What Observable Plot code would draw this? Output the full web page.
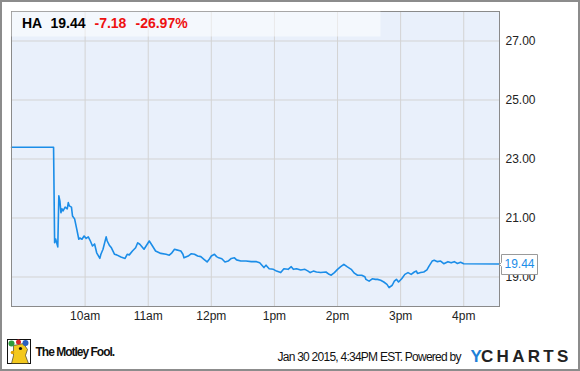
<!DOCTYPE html>
<html><head><meta charset="utf-8">
<script src="https://cdn.jsdelivr.net/npm/d3@7"></script>
<script src="https://cdn.jsdelivr.net/npm/@observablehq/plot@0.6"></script>
<style>body{margin:0;background:#fff;}</style>
</head><body><div id="chart"></div>
<script>
// minutes since midnight (Jan 30 2015)
const times = [530,570,571,572,574,575,576,577,578,579,
581,583,584,585,587,588,590,592,594,595,
597,599,601,603,605,607,609,611,614,615,
617,620,621,623,625,628,630,634,638,640,
642,645,648,650,652,653,656,661,663,667,
672,677,680,682,685,687,691,693,694,698,
701,704,707,710,713,716,718,720,723,725,
727,730,733,736,739,742,744,748,753,758,
763,766,770,772,775,779,782,786,789,793,
796,798,801,805,809,812,814,817,820,824,
829,832,834,837,840,843,846,849,853,856,
859,863,866,867,870,873,876,878,881,884,
887,889,892,894,896,898,901,904,907,910,
913,915,916,919,922,925,927,930,932,935,
938,941,945,948,951,954,957,960,994];
const prices = [23.40,23.40,20.16,20.29,20.02,21.75,21.58,21.18,21.31,21.24,
21.37,21.31,21.52,21.41,21.37,21.07,20.97,20.63,20.28,20.32,
20.28,20.39,20.31,20.36,20.22,20.05,20.12,19.82,19.63,19.77,
19.94,20.36,20.22,20.08,19.99,19.77,19.75,19.68,19.63,19.77,
19.75,19.88,19.99,20.16,20.11,20.07,19.94,20.22,20.11,19.88,
19.80,19.77,19.74,19.80,19.94,19.92,19.88,19.77,19.65,19.71,
19.79,19.77,19.71,19.69,19.60,19.51,19.60,19.71,19.77,19.69,
19.65,19.62,19.51,19.54,19.63,19.65,19.58,19.54,19.54,19.52,
19.52,19.48,19.32,19.40,19.28,19.26,19.20,19.15,19.28,19.26,
19.35,19.26,19.28,19.24,19.26,19.20,19.15,19.20,19.17,19.15,
19.17,19.09,19.06,19.15,19.26,19.35,19.43,19.35,19.26,19.13,
19.06,19.06,19.01,18.92,18.86,18.94,18.92,18.92,18.89,18.83,
18.75,18.64,18.72,18.86,18.92,18.83,18.94,19.09,19.15,19.09,
19.17,19.20,19.12,19.15,19.17,19.24,19.37,19.54,19.57,19.52,
19.54,19.45,19.52,19.48,19.52,19.46,19.50,19.45,19.44];
const xTicks = [600,660,720,780,840,900,960];
const xTickLabels = ["10am","11am","12pm","1pm","2pm","3pm","4pm"];
const yTicks = [19,21,23,25,27];
const headerTexts = ["HA","19.44","-7.18","-26.97%"];
const footerNote = "Jan 30 2015, 4:34PM EST. Powered by";
const brandLeft = "The Motley Fool.";
const brandRight = ["Y","CHARTS"];

const data = times.map((t,i)=>({t, p: prices[i]}));
const last = data[data.length-1];
const font = "'Liberation Sans', Arial, sans-serif";

const chart = Plot.plot({
  width:580, height:371,
  marginLeft:11, marginRight:81, marginTop:11, marginBottom:65,
  style:{background:"#fff", fontFamily:font, fontSize:"12px", color:"#222", overflow:"visible"},
  x:{domain:[530,994], axis:null},
  y:{domain:[18,28], axis:null},
  marks:[
    Plot.frame({fill:"#e9f0fb", stroke:null}),
    Plot.gridX(xTicks,{stroke:"#d3d3d3", strokeOpacity:1}),
    Plot.gridY(yTicks,{stroke:"#d3d3d3", strokeOpacity:1}),
    Plot.line(data,{x:"t", y:"p", stroke:"#1b8de8", strokeWidth:1.6}),
    Plot.frame({stroke:"#8a8a8a"}),
    Plot.axisX(xTicks,{label:null, tickSize:0, tickPadding:4.5, tickFormat:d=>xTickLabels[xTicks.indexOf(d)], fontSize:12, fill:"#222"}),
    Plot.axisY(yTicks,{label:null, anchor:"right", tickSize:0, tickPadding:6, tickFormat:d=>d.toFixed(2), fontSize:12, fill:"#222"}),
    Plot.text([headerTexts[0]],{text:d=>d, frameAnchor:"top-left", lineAnchor:"top", textAnchor:"start", dx:10.5, dy:6.7, fontSize:14, fontWeight:"bold", fill:"#000"}),
    Plot.text([headerTexts[1]],{text:d=>d, frameAnchor:"top-left", lineAnchor:"top", textAnchor:"start", dx:39, dy:6.7, fontSize:14, fontWeight:"bold", fill:"#000"}),
    Plot.text([headerTexts[2]],{text:d=>d, frameAnchor:"top-left", lineAnchor:"top", textAnchor:"start", dx:83, dy:6.7, fontSize:14, fontWeight:"bold", fill:"#ee1111"}),
    Plot.text([headerTexts[3]],{text:d=>d, frameAnchor:"top-left", lineAnchor:"top", textAnchor:"start", dx:124, dy:6.7, fontSize:14, fontWeight:"bold", fill:"#ee1111"}),
    Plot.text([footerNote],{text:d=>d, frameAnchor:"bottom-left", lineAnchor:"middle", textAnchor:"start", dx:266, dy:50.2, fontSize:12, fill:"#111"}),
    Plot.text([brandLeft],{text:d=>d, frameAnchor:"bottom-left", lineAnchor:"middle", textAnchor:"start", dx:24, dy:45.5, fontSize:12, fontWeight:"bold", fill:"#111"}),
    Plot.text([brandRight[0]],{text:d=>d, frameAnchor:"bottom-left", lineAnchor:"middle", textAnchor:"start", dx:459, dy:50.3, fontSize:17, fontWeight:"bold", fill:"#1e80d8"}),
    Plot.text([brandRight[1]],{text:d=>d, frameAnchor:"bottom-left", lineAnchor:"middle", textAnchor:"start", dx:469.5, dy:50.3, fontSize:17, fontWeight:"bold", fill:"#222"}),
    Plot.tip([last],{x:"t", y:"p", title:d=>d.p.toFixed(2), anchor:"left", pointerSize:4, textPadding:3, fontSize:12, fill:"white", stroke:"#9a9a9a", pathFilter:"none"})
  ]
});
document.getElementById("chart").appendChild(chart);

// decorations
const svg = d3.select(chart);
const byText = s => svg.selectAll("text").filter(function(){ return this.textContent === s; });
byText(footerNote).attr("letter-spacing", -0.75);
byText(brandLeft).attr("letter-spacing", -1);
byText(brandRight[1]).attr("letter-spacing", 3.3);
svg.selectAll('g[aria-label="tip"] text, g[aria-label="tip"] tspan').attr("fill", "#1b8de8");
svg.selectAll('g[aria-label="tip"], g[aria-label="tip"] path').style("filter", "none");
// header band (drawn under the header texts)
const headerNode = byText(headerTexts[0]).node();
if (headerNode) {
  let g = headerNode;
  while (g.parentNode && g.parentNode !== chart) g = g.parentNode;
  const band = document.createElementNS("http://www.w3.org/2000/svg","rect");
  chart.insertBefore(band, g);
  d3.select(band).attr("x", 11.5).attr("y", 11.5).attr("width", 369).attr("height", 25)
    .attr("fill", "#ffffff").attr("fill-opacity", 0.5);
}
// logo
const logo = svg.append("g").attr("transform","translate(7.5,339.5)");
logo.append("rect").attr("width",23).attr("height",24).attr("fill","#fff").attr("stroke","#111");
logo.append("path").attr("d","M6,6 L16,4 L20,10 L18,16 L21,24 L4,24 L6,16 Z").attr("fill","#f3c81e").attr("stroke","#222").attr("stroke-width",0.6);
logo.append("circle").attr("cx",4).attr("cy",4).attr("r",3).attr("fill","#2f9a3a");
logo.append("circle").attr("cx",11).attr("cy",2.5).attr("r",2.5).attr("fill","#d9262b");
logo.append("circle").attr("cx",18).attr("cy",3.5).attr("r",3).attr("fill","#2a5fbf");
logo.append("circle").attr("cx",13).attr("cy",9).attr("r",1.6).attr("fill","#111");
logo.append("circle").attr("cx",5).attr("cy",13).attr("r",1.8).attr("fill","#e0a000");
// outer border
svg.append("rect").attr("x",1).attr("y",1).attr("width",578).attr("height",369)
  .attr("fill","none").attr("stroke","#8c8c8c").attr("stroke-width",2);
</script>
</body></html>
